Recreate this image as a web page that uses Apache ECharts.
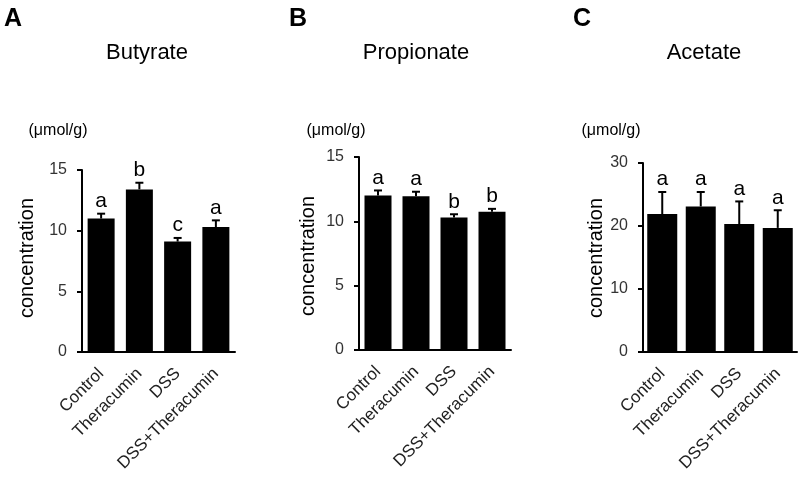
<!DOCTYPE html>
<html>
<head>
<meta charset="utf-8">
<script src="https://cdn.jsdelivr.net/npm/echarts@6/dist/echarts.min.js"></script>
<style>
html,body{margin:0;padding:0;background:#fff;}
#chart{width:800px;height:478px;}
</style>
</head>
<body>
<div id="chart"></div>
<script>
const categories = ['Control', 'Theracumin', 'DSS', 'DSS+Theracumin'];

const butyrateMean = [11.0, 13.4, 9.1, 10.3];
const butyrateErrTop = [11.4, 13.95, 9.4, 10.85];
const butyrateLetters = ['a', 'b', 'c', 'a'];

const propionateMean = [12.0, 11.95, 10.3, 10.75];
const propionateErrTop = [12.4, 12.3, 10.55, 10.97];
const propionateLetters = ['a', 'a', 'b', 'b'];

const acetateMean = [21.9, 23.1, 20.3, 19.7];
const acetateErrTop = [25.4, 25.4, 23.9, 22.5];
const acetateLetters = ['a', 'a', 'a', 'a'];

const panelTitles = ['Butyrate', 'Propionate', 'Acetate'];
const panelLetters = ['A', 'B', 'C'];
const yMax = [15, 15, 30];
const yInterval = [5, 5, 10];

const FONT = 'Liberation Sans, Arial, sans-serif';

const grids = [
  {left: 82, top: 170, width: 153, height: 182},
  {left: 359, top: 157, width: 152, height: 193},
  {left: 643, top: 163, width: 154, height: 189}
];
const barWidths = [27, 27, 30];
const meansAll = [butyrateMean, propionateMean, acetateMean];
const errAll = [butyrateErrTop, propionateErrTop, acetateErrTop];
const lettersAll = [butyrateLetters, propionateLetters, acetateLetters];

const chart = echarts.init(document.getElementById('chart'));

const xAxes = [], yAxes = [], series = [], graphics = [];
const titlePos = [
  {letter: [13, 19], title: [147, 53], unit: [58, 131], yname: [27, 258]},
  {letter: [298, 19], title: [416, 53], unit: [336, 131], yname: [308, 256]},
  {letter: [582, 19], title: [704, 53], unit: [611, 131], yname: [596, 258]}
];

for (let p = 0; p < 3; p++) {
  xAxes.push({
    type: 'category', gridIndex: p, data: categories,
    axisLine: {lineStyle: {color: '#000', width: 2}},
    axisTick: {show: false},
    axisLabel: {rotate: 45, fontSize: 17, color: '#222', fontFamily: FONT, margin: 19, interval: 0}
  });
  yAxes.push({
    type: 'value', gridIndex: p, min: 0, max: yMax[p], interval: yInterval[p],
    splitLine: {show: false},
    axisLine: {show: true, lineStyle: {color: '#000', width: 2}},
    axisTick: {show: true, length: 5, lineStyle: {color: '#000', width: 2}},
    axisLabel: {fontSize: 16, color: '#333', fontFamily: FONT, margin: 15}
  });
  series.push({
    type: 'bar', xAxisIndex: p, yAxisIndex: p, data: meansAll[p],
    barWidth: barWidths[p],
    itemStyle: {color: '#000'},
    z: 2
  });
  const letters = lettersAll[p];
  series.push({
    type: 'custom', xAxisIndex: p, yAxisIndex: p,
    data: meansAll[p].map((m, i) => [i, m, errAll[p][i]]),
    z: 3,
    renderItem: function (params, api) {
      const b = api.coord([api.value(0), api.value(1)]);
      const e = api.coord([api.value(0), api.value(2)]);
      const cap = 4;
      return {
        type: 'group',
        children: [
          {type: 'line', shape: {x1: b[0], y1: b[1], x2: e[0], y2: e[1]}, style: {stroke: '#000', lineWidth: 2}},
          {type: 'line', shape: {x1: e[0] - cap, y1: e[1], x2: e[0] + cap, y2: e[1]}, style: {stroke: '#000', lineWidth: 2}},
          {type: 'text', x: e[0], y: e[1] - 2, style: {text: letters[params.dataIndex], fill: '#000', font: '21px ' + FONT, textAlign: 'center', textVerticalAlign: 'bottom'}}
        ]
      };
    }
  });
  const tp = titlePos[p];
  graphics.push({type: 'text', x: tp.letter[0], y: tp.letter[1], style: {text: panelLetters[p], fill: '#000', font: 'bold 25px ' + FONT, textAlign: 'center', textVerticalAlign: 'middle'}});
  graphics.push({type: 'text', x: tp.title[0], y: tp.title[1], style: {text: panelTitles[p], fill: '#000', font: '22px ' + FONT, textAlign: 'center', textVerticalAlign: 'middle'}});
  graphics.push({type: 'text', x: tp.unit[0], y: tp.unit[1], style: {text: '(μmol/g)', fill: '#000', font: '16px ' + FONT, textAlign: 'center', textVerticalAlign: 'middle'}});
  graphics.push({type: 'text', x: tp.yname[0], y: tp.yname[1], rotation: Math.PI / 2, style: {text: 'concentration', fill: '#000', font: '20px ' + FONT, textAlign: 'center', textVerticalAlign: 'middle'}});
}

chart.setOption({
  animation: false,
  backgroundColor: '#fff',
  grid: grids,
  xAxis: xAxes,
  yAxis: yAxes,
  series: series,
  graphic: graphics
});
</script>
</body>
</html>
